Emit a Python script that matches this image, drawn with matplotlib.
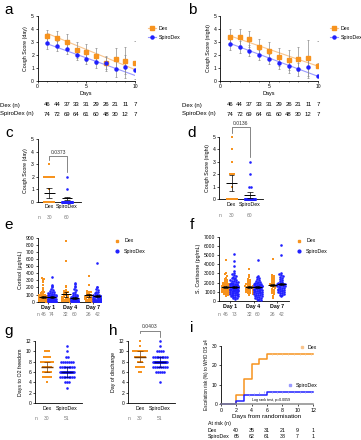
import numpy as np
import matplotlib
matplotlib.use('Agg')
import matplotlib.pyplot as plt
from matplotlib.transforms import blended_transform_factory as blend
from matplotlib.lines import Line2D

W, H = 361, 440
plt.rcParams['font.family'] = ['Liberation Sans', 'DejaVu Sans']
ORANGE = '#F7931E'
BLUE = '#2020FF'
LORANGE = '#F9C48C'
LBLUE = '#9A9AFF'
GREY = '#8C8C8C'
NGREY = '#7A7A7A'

# ---- data ----
days = np.arange(1, 11)
dex_n = [46, 44, 37, 33, 31, 29, 26, 21, 11, 7]
spiro_n = [74, 72, 69, 64, 61, 60, 48, 30, 12, 7]

a_dex = [3.45, 3.3, 3.0, 2.37, 2.2, 1.92, 1.36, 1.66, 1.57, 1.4]
a_dex_err = [0.5, 0.55, 0.6, 0.6, 0.65, 0.6, 0.6, 0.85, 1.05, 1.7]
a_spiro = [2.9, 2.7, 2.46, 2.0, 1.72, 1.43, 1.36, 0.92, 1.1, 0.84]
a_spiro_err = [0.45, 0.4, 0.4, 0.4, 0.4, 0.4, 0.45, 0.6, 0.9, 0.7]
a_fit_dex = (-0.309, 3.97)
a_fit_spiro = (-0.27, 3.13)

b_dex = [3.42, 3.37, 3.22, 2.6, 2.33, 1.87, 1.62, 1.7, 1.76, 1.15]
b_dex_err = [0.55, 0.6, 0.6, 0.65, 0.65, 0.7, 0.8, 0.9, 1.4, 1.9]
b_spiro = [2.86, 2.62, 2.34, 2.0, 1.7, 1.4, 1.15, 0.9, 1.05, 0.4]
b_spiro_err = [0.45, 0.45, 0.4, 0.4, 0.4, 0.45, 0.5, 0.5, 0.8, 1.0]
b_fit_dex = (-0.26, 3.74)
b_fit_spiro = (-0.282, 3.18)

c_dex = [3] + [2] * 6 + [1] + [0] * 22
c_spiro = [2, 1] + [0] * 58
c_mean = [0.68, 0.26]
c_err = [0.38, 0.14]

d_dex = [5, 4, 3, 2, 2, 2, 1] + [0] * 23
d_spiro = [3, 2, 1, 1] + [0] * 56
d_mean = [1.3, 0.32]
d_err = [0.65, 0.25]

e_dex1 = [340, 325, 300, 280, 240, 190, 160, 140, 130, 120, 115, 100, 95, 90, 85, 80, 75, 70, 65, 60,
          55, 50, 50, 45, 40, 40, 35, 30, 30, 25, 25, 20, 20, 20, 15, 15, 10, 10, 10, 8, 5, 5, 5, 3, 2, 0]
e_spiro1 = [350, 240, 220, 200, 180, 160, 150, 140, 130, 125, 120, 110, 105, 100, 95, 90, 90, 85, 80, 80,
            75, 70, 70, 65, 60, 60, 55, 55, 50, 50, 45, 45, 40, 40, 40, 35, 35, 30, 30, 30, 25, 25, 25,
            20, 20, 20, 20, 15, 15, 15, 15, 10, 10, 10, 10, 10, 8, 8, 6, 6, 5, 5, 5, 4, 4, 3, 3, 2, 2, 2,
            1, 1, 0, 0]
e_dex4 = [860, 570, 220, 200, 170, 150, 140, 130, 120, 110, 100, 95, 90, 80, 70, 60, 55, 50, 45, 40,
          35, 30, 25, 20, 20, 15, 10, 10, 5, 5, 3, 0]
e_spiro4 = [270, 250, 220, 200, 180, 160, 140, 120, 110, 100, 90, 80, 75, 70, 65, 60, 55, 50, 50, 45,
            40, 40, 35, 35, 30, 30, 30, 25, 25, 25, 20, 20, 20, 20, 15, 15, 15, 15, 10, 10, 10, 10, 10,
            8, 8, 6, 6, 5, 5, 5, 4, 4, 3, 3, 2, 2, 1, 1, 0, 0]
e_dex7 = [360, 230, 150, 140, 130, 120, 110, 100, 90, 80, 75, 70, 60, 55, 50, 45, 40, 35, 30, 25, 20,
          15, 10, 8, 5, 2]
e_spiro7 = [540, 210, 200, 180, 160, 140, 130, 120, 110, 100, 95, 90, 85, 80, 75, 70, 65, 60, 55, 50,
            45, 40, 35, 30, 30, 25, 25, 20, 20, 15, 15, 10, 10, 10, 8, 6, 5, 4, 3, 2, 1, 0]
e_mean = [70, 65, 105, 55, 90, 75]
e_err = [15, 10, 35, 10, 20, 15]
e_n = [46, 74, 32, 60, 26, 42]

f_dex1 = [4500, 3000, 2900, 2700, 2500, 2400, 2300, 2200, 2100, 2000, 1950, 1900, 1850, 1800, 1750,
          1700, 1650, 1600, 1600, 1550, 1500, 1500, 1450, 1400, 1400, 1350, 1300, 1300, 1250, 1200,
          1200, 1150, 1100, 1100, 1050, 1000, 1000, 950, 900, 900, 850, 800, 750, 700, 600, 500]
f_spiro1 = [5100, 4400, 3800, 3300, 3000, 2900, 2800, 2700, 2600, 2500, 2450, 2400, 2300, 2250, 2200,
            2150, 2100, 2050, 2000, 1950, 1900, 1850, 1800, 1800, 1750, 1700, 1700, 1650, 1600, 1600,
            1550, 1500, 1500, 1500, 1450, 1400, 1400, 1350, 1300, 1300, 1250, 1200, 1200, 1150, 1100,
            1100, 1050, 1000, 1000, 950, 900, 900, 850, 800, 800, 750, 700, 700, 650, 600, 550, 500,
            450, 400, 350, 300, 250, 1600, 1500, 1400, 1300, 1200, 1100]
f_dex4 = [3500, 2800, 2600, 2400, 2300, 2200, 2100, 2000, 1900, 1800, 1750, 1700, 1650, 1600, 1550,
          1500, 1500, 1450, 1400, 1350, 1300, 1250, 1200, 1150, 1100, 1050, 1000, 950, 900, 850, 800, 700]
f_spiro4 = [4500, 2700, 2600, 2500, 2400, 2300, 2200, 2100, 2050, 2000, 1950, 1900, 1850, 1800, 1800,
            1750, 1700, 1700, 1650, 1600, 1600, 1550, 1500, 1500, 1500, 1450, 1400, 1400, 1350, 1300,
            1300, 1250, 1200, 1200, 1150, 1100, 1100, 1050, 1000, 1000, 950, 900, 900, 850, 800, 750,
            700, 650, 600, 550, 500, 450, 400, 350, 300, 250, 200, 150, 100, 1600]
f_dex7 = [4600, 2800, 2700, 2600, 2500, 2400, 2300, 2200, 2100, 2000, 1900, 1800, 1750, 1700, 1650,
          1600, 1500, 1400, 1300, 1200, 1100, 1000, 900, 800, 500, 300]
f_spiro7 = [6100, 5000, 3000, 2900, 2800, 2700, 2600, 2500, 2400, 2300, 2200, 2100, 2000, 1950, 1900,
            1850, 1800, 1750, 1700, 1650, 1600, 1550, 1500, 1450, 1400, 1350, 1300, 1250, 1200, 1150,
            1100, 1050, 1000, 950, 900, 850, 800, 700, 600, 500, 1800, 1600]
f_mean = [1550, 1550, 1550, 1550, 1750, 1850]
f_err = [100, 100, 120, 100, 150, 150]
f_n = [46, 73, 32, 60, 26, 42]

g_dex = [10] * 3 + [9] * 4 + [8] * 7 + [7] * 5 + [6] * 5 + [5] * 5 + [4]
g_spiro = [11, 10, 9, 9] + [8] * 7 + [7] * 9 + [6] * 18 + [5] * 9 + [4] * 3 + [3]
g_mean = [7, 6]
g_err = [1, 1]

h_dex = [12, 11] + [10] * 12 + [9] * 6 + [8] * 3 + [7] * 5 + [6] * 2
h_spiro = [12, 11] + [10] * 4 + [9] * 9 + [8] * 22 + [7] * 8 + [6] * 5 + [4]
h_mean = [9, 8]
h_err = [1, 1]

i_dex_days = [0, 2, 3, 4, 5, 6, 12]
i_dex_risk = [0, 5.0, 12.8, 20.5, 23.1, 25.9, 25.9]
i_spiro_days = [0, 2, 3, 6, 12]
i_spiro_risk = [0, 1.5, 4.6, 6.3, 6.3]
i_dex_cens = [6.6, 7.3, 8, 8.7, 9.5, 10.3, 11, 11.8]
i_spiro_cens = [3.6, 4.3, 5, 5.6, 6.6, 7.3, 8, 8.7, 9.5, 10.3, 11, 11.8]
i_risk_days = [2, 4, 6, 8, 10, 12]
i_dex_atrisk = [40, 35, 31, 21, 9, 1]
i_spiro_atrisk = [65, 62, 61, 38, 7, 1]

fig = plt.figure(figsize=(W / 100, H / 100), dpi=100)


def add_ax(l, r, t, b):
    ax = fig.add_axes([l / W, 1 - b / H, (r - l) / W, (b - t) / H])
    for s in ['top', 'right']:
        ax.spines[s].set_visible(False)
    for s in ['left', 'bottom']:
        ax.spines[s].set_linewidth(0.6)
    ax.tick_params(labelsize=3.6, length=1.5, width=0.5, pad=1)
    ax.patch.set_alpha(0)
    return ax


def letter(x, y, s):
    fig.text(x / W, 1 - y / H, s, fontsize=11, ha='center', va='center')


def fy(y):
    return 1 - y / H


def swarm_x(vals, center, bin_h, dx, maxw):
    vals = np.asarray(vals, float)
    xs = np.zeros_like(vals)
    keys = np.round(vals / bin_h).astype(int)
    for k in np.unique(keys):
        idx = np.where(keys == k)[0]
        n = len(idx)
        step = dx if (n - 1) * dx <= 2 * maxw else 2 * maxw / max(n - 1, 1)
        xs[idx] = center + (np.arange(n) - (n - 1) / 2) * step
    return xs


def mean_err(ax, c, m, e, color='k', w=0.3, lw=0.7):
    ax.hlines(m, c - w, c + w, color=color, lw=lw, zorder=5)
    ax.vlines(c, m - e, m + e, color=color, lw=0.5, zorder=5)
    ax.hlines([m - e, m + e], c - w / 2, c + w / 2, color=color, lw=0.5, zorder=5)


# ---- a / b ----
def cough_panel(ax, dex, dex_err, spi, spi_err, fit_d, fit_s, ylabel):
    xx = np.array([days[0], days[-1]])
    ax.plot(xx, fit_d[1] + fit_d[0] * xx, color=LORANGE, lw=0.8, zorder=1)
    ax.plot(xx, fit_s[1] + fit_s[0] * xx, color=LBLUE, lw=0.8, zorder=1)
    ax.errorbar(days, dex, yerr=dex_err, fmt='none', ecolor=GREY, elinewidth=0.5, capsize=1.0, capthick=0.5)
    ax.errorbar(days, spi, yerr=spi_err, fmt='none', ecolor=GREY, elinewidth=0.5, capsize=1.0, capthick=0.5)
    ax.plot(days, dex, 's', color=ORANGE, ms=2.2, zorder=4)
    ax.plot(days, spi, 'o', color=BLUE, ms=2.2, zorder=4)
    ax.set_xlim(0, 10)
    ax.set_ylim(0, 5)
    ax.set_xticks([0, 5, 10])
    ax.set_xticks(range(11), minor=True)
    ax.tick_params(which='minor', length=1, width=0.4)
    ax.set_yticks(range(6))
    ax.set_xlabel('Days', fontsize=4, labelpad=1)
    ax.set_ylabel(ylabel, fontsize=3.8, labelpad=2)


def cough_table(ax, x0):
    tr = blend(ax.transData, fig.transFigure)
    fig.text(x0 / W, fy(105), 'Dex (n)', fontsize=4.3, va='center')
    fig.text(x0 / W, fy(114), 'SpiroDex (n)', fontsize=4.3, va='center')
    for d, n1, n2 in zip(days, dex_n, spiro_n):
        ax.text(d, fy(105), str(n1), transform=tr, fontsize=4.3, ha='center', va='center')
        ax.text(d, fy(114), str(n2), transform=tr, fontsize=4.3, ha='center', va='center')


def line_legend(ax, x, y):
    hs = [Line2D([], [], color=LORANGE, lw=0.8, marker='s', mfc=ORANGE, mec=ORANGE, ms=2.2),
          Line2D([], [], color=LBLUE, lw=0.8, marker='o', mfc=BLUE, mec=BLUE, ms=2.2)]
    ax.legend(hs, ['Dex', 'SpiroDex'], loc='center left', bbox_to_anchor=(x / W, fy(y)),
              bbox_transform=fig.transFigure, frameon=False, fontsize=3.8, handlelength=1.6,
              labelspacing=0.7, handletextpad=0.5, borderpad=0)


axa = add_ax(37.5, 135, 16, 81)
cough_panel(axa, a_dex, a_dex_err, a_spiro, a_spiro_err, a_fit_dex, a_fit_spiro, 'Cough Score (day)')
line_legend(axa, 145, 33)
cough_table(axa, 0)
letter(9, 10, 'a')

axb = add_ax(220, 318, 16, 81)
cough_panel(axb, b_dex, b_dex_err, b_spiro, b_spiro_err, b_fit_dex, b_fit_spiro, 'Cough Score (night)')
line_legend(axb, 327, 33)
cough_table(axb, 182)
letter(192, 10, 'b')


# ---- c / d / g / h : two-group scatter ----
def two_group(ax, dex, spi, means, errs, ylabel, n_lbl, n_y, lim, dx=0.12, maxw=0.28,
              mcol=('k', 'k'), mlw=0.7):
    ax.scatter(swarm_x(dex, 0, 0.5, dx, maxw), dex, s=3.5, marker='s', color=ORANGE, lw=0, zorder=3, clip_on=False)
    ax.scatter(swarm_x(spi, 1, 0.5, dx, maxw), spi, s=3.5, marker='o', color=BLUE, lw=0, zorder=3, clip_on=False)
    for c in range(2):
        mean_err(ax, c, means[c], errs[c], color=mcol[c], lw=mlw)
    ax.set_xlim(*lim)
    ax.set_xticks([0, 1])
    ax.set_xticklabels(['Dex', 'SpiroDex'], fontsize=3.8)
    ax.tick_params(axis='x', length=0, pad=2)
    ax.set_ylabel(ylabel, fontsize=3.8, labelpad=2)
    tr = blend(ax.transData, fig.transFigure)
    ax.text(lim[0] + 0.1, fy(n_y), 'n:', transform=tr, fontsize=3.6, color=NGREY, ha='center', va='center')
    for c, n in enumerate(n_lbl):
        ax.text(c, fy(n_y), str(n), transform=tr, fontsize=3.6, color=NGREY, ha='center', va='center')


def bracket(ax, top, left_bot, right_bot, text_y, label):
    ax.plot([0, 0, 1, 1], [left_bot, top, top, right_bot], color='#555555', lw=0.5, clip_on=False)
    ax.text(0.5, text_y, label, fontsize=3.6, ha='center', va='center', color='#333333', clip_on=False)


axc = add_ax(37.5, 81, 139, 201.7)
two_group(axc, c_dex, c_spiro, c_mean, c_err, 'Cough Score (day)', [30, 60], 217, (-0.65, 1.78))
axc.set_ylim(0, 5)
axc.set_yticks(range(6))
bracket(axc, 3.63, 3.35, 2.4, 3.95, '0.0373')
letter(9, 133, 'c')

axd = add_ax(219, 263, 137, 199)
two_group(axd, d_dex, d_spiro, d_mean, d_err, 'Cough Score (night)', [30, 60], 215, (-0.7, 1.72))
axd.set_ylim(0, 5)
axd.set_yticks(range(6))
bracket(axd, 5.78, 5.35, 3.4, 6.12, '0.0136')
letter(192, 133, 'd')

axg = add_ax(35, 82, 341, 403)
two_group(axg, g_dex, g_spiro, g_mean, g_err, 'Days to O2 freedom', [30, 51], 418, (-0.6, 1.75),
          dx=0.1, maxw=0.33, mcol=('#7A3A00', '#00006E'), mlw=1.0)
axg.set_ylim(0, 12)
axg.set_yticks(range(0, 13, 2))
letter(9, 331, 'g')

axh = add_ax(128, 175, 341, 403)
two_group(axh, h_dex, h_spiro, h_mean, h_err, 'Day of discharge', [30, 51], 418, (-0.6, 1.75),
          dx=0.1, maxw=0.33, mcol=('#7A3A00', '#00006E'), mlw=1.0)
axh.set_ylim(0, 12)
axh.set_yticks(range(0, 13, 2))
bracket(axh, 14.0, 13.5, 12.8, 14.9, '0.0403')
letter(113, 331, 'h')


# ---- e / f : three time points ----
def three_day(ax, groups, means, errs, ns, ylabel, bin_h, n_y, lim, off):
    px = 23.0
    dx = 2.1 / px
    for k, vals in enumerate(groups):
        day = k // 2 + 1
        c = day - off if k % 2 == 0 else day + off
        xs = swarm_x(vals, c, bin_h, dx, 0.17)
        if k % 2 == 0:
            ax.scatter(xs, vals, s=3.5, marker='s', color=ORANGE, lw=0, zorder=3)
        else:
            ax.scatter(xs, vals, s=3.5, marker='o', color=BLUE, lw=0, zorder=3)
        mean_err(ax, c, means[k], errs[k], w=0.2)
    ax.set_xlim(*lim)
    ax.set_xticks([1, 2, 3])
    ax.set_xticklabels(['Day 1', 'Day 4', 'Day 7'], fontsize=3.8, fontweight='bold')
    ax.set_ylabel(ylabel, fontsize=3.8, labelpad=2)
    tr = blend(ax.transData, fig.transFigure)
    ax.text(lim[0] + 0.05, fy(n_y), 'n:', transform=tr, fontsize=3.6, color=NGREY, ha='center', va='center')
    for k, n in enumerate(ns):
        day = k // 2 + 1
        c = day - off if k % 2 == 0 else day + off
        ax.text(c, fy(n_y), str(n), transform=tr, fontsize=3.6, color=NGREY, ha='center', va='center')


def dot_legend(ax, x, y):
    hs = [Line2D([], [], ls='none', marker='s', color=ORANGE, ms=2),
          Line2D([], [], ls='none', marker='o', color=BLUE, ms=2)]
    ax.legend(hs, ['Dex', 'SpiroDex'], loc='center left', bbox_to_anchor=(x / W, fy(y)),
              bbox_transform=fig.transFigure, frameon=False, fontsize=3.8, handlelength=1.0,
              labelspacing=1.0, handletextpad=0.8, borderpad=0)


axe = add_ax(37.7, 101, 237.7, 301.7)
three_day(axe, [e_dex1, e_spiro1, e_dex4, e_spiro4, e_dex7, e_spiro7], e_mean, e_err, e_n,
          'Cortisol (\u00b5g/mL)', 28, 314, (0.565, 3.35), 0.19)
axe.set_ylim(0, 900)
axe.set_yticks(range(0, 901, 100))
dot_legend(axe, 112, 246)
letter(9, 225, 'e')

axf = add_ax(219, 289, 236.7, 301)
three_day(axf, [f_dex1, f_spiro1, f_dex4, f_spiro4, f_dex7, f_spiro7], f_mean, f_err, f_n,
          'S. Cortisone (pg/mL)', 215, 314, (0.53, 3.51), 0.18)
axf.set_ylim(0, 7000)
axf.set_yticks(range(0, 7001, 1000))
dot_legend(axf, 294, 246)
letter(192, 225, 'f')

# ---- i : cumulative escalation ----
axi = add_ax(221, 313, 345.5, 404.3)
axi.step(i_dex_days, i_dex_risk, where='post', color=ORANGE, lw=1.1, clip_on=False)
axi.step(i_spiro_days, i_spiro_risk, where='post', color=BLUE, lw=1.1, clip_on=False)
axi.plot(i_dex_cens, np.interp(i_dex_cens, i_dex_days, i_dex_risk), ls='none', marker='|',
         color=LORANGE, ms=2, mew=0.5)
axi.plot(i_spiro_cens, np.interp(i_spiro_cens, i_spiro_days, i_spiro_risk), ls='none', marker='|',
         color=LBLUE, ms=2, mew=0.5)
axi.set_xlim(0, 12)
axi.set_ylim(0, 30)
axi.set_xticks(range(0, 13, 2))
axi.set_yticks([0, 10, 20, 30])
axi.spines['bottom'].set_linewidth(1.1)
axi.spines['bottom'].set_color('#8A8A8A')
axi.tick_params(axis='x', labelsize=3.8)
axi.set_xlabel('Days from randomisation', fontsize=4.5, labelpad=1)
axi.set_ylabel('Escalation risk (%) to WHO OS \u22654', fontsize=3.3, labelpad=2)
l1 = axi.legend([Line2D([], [], ls='none', marker='s', color=LORANGE, ms=1.8)], ['Dex'],
                loc='center left', bbox_to_anchor=(297 / W, fy(347.5)), bbox_transform=fig.transFigure,
                frameon=False, fontsize=3.8, handlelength=1.0, handletextpad=0.6, borderpad=0)
axi.add_artist(l1)
axi.legend([Line2D([], [], ls='none', marker='s', color=LBLUE, ms=1.8)], ['SpiroDex'],
           loc='center left', bbox_to_anchor=(285 / W, fy(385)), bbox_transform=fig.transFigure,
           frameon=False, fontsize=3.8, handlelength=1.0, handletextpad=0.6, borderpad=0)
axi.text(6.5, 0.07, 'Log rank test, p=0.0059', transform=blend(axi.transData, axi.transAxes),
         fontsize=2.6, ha='center', va='center')
tri = blend(axi.transData, fig.transFigure)
fig.text(208 / W, fy(423), 'At risk (n)', fontsize=3.8, va='center')
fig.text(208 / W, fy(430), 'Dex', fontsize=3.8, va='center')
fig.text(208 / W, fy(436.5), 'SpiroDex', fontsize=3.8, va='center')
for d, n1, n2 in zip(i_risk_days, i_dex_atrisk, i_spiro_atrisk):
    axi.text(d, fy(430), str(n1), transform=tri, fontsize=3.8, ha='center', va='center')
    axi.text(d, fy(436.5), str(n2), transform=tri, fontsize=3.8, ha='center', va='center')
letter(192, 328, 'i')

fig.savefig('out.png', dpi=100, facecolor='white')
